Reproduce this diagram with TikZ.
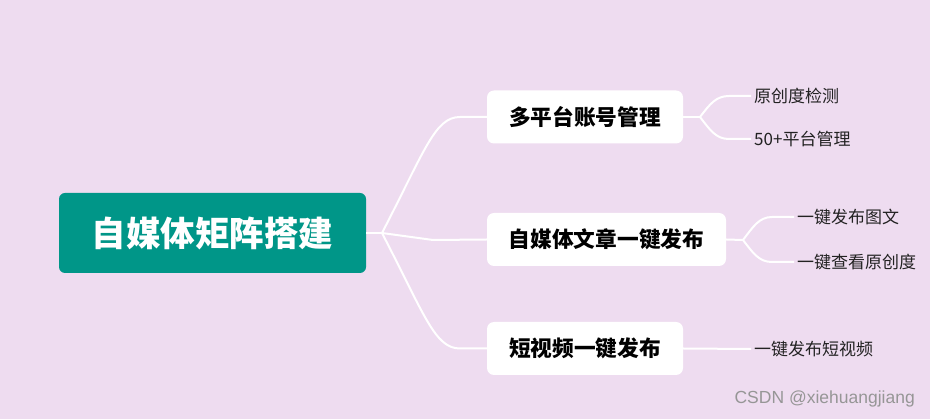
\documentclass[tikz,border=0pt]{standalone}
\usepackage{fontspec}
\setmainfont{Noto Sans CJK SC}
\newfontfamily\wmfont{Liberation Sans}
\definecolor{bgc}{RGB}{238,220,240}
\definecolor{rootc}{RGB}{0,150,136}
\definecolor{leafc}{RGB}{34,34,34}
\definecolor{wmc}{RGB}{150,150,150}
\tikzset{
  rootbox/.style={fill=rootc, rounded corners=6pt, text=white, font=\fontsize{34.5}{38}\selectfont\bfseries, minimum width=307pt, minimum height=80pt, inner sep=0pt},
  topicbox/.style={fill=white, rounded corners=7pt, text=black, font=\fontsize{21.7}{24}\selectfont\bfseries, minimum height=53pt, inner sep=0pt},
  leaftext/.style={anchor=west, text=leafc, font=\fontsize{17}{19}\selectfont, inner xsep=3pt, inner ysep=0pt},
  branch/.style={draw=white, line width=2pt},
}
\begin{document}
\begin{tikzpicture}[x=1pt,y=-1pt]
\fill[bgc] (0,0) rectangle (930,419);
\useasboundingbox (0,0) rectangle (930,419);

\node[rootbox] (root) at (212.5,233) {自媒体矩阵搭建};
\node[topicbox, minimum width=196pt] (b1) at (585,117) {多平台账号管理};
\node[topicbox, minimum width=239pt] (b2) at (606.5,239.5) {自媒体文章一键发布};
\node[topicbox, minimum width=196pt] (b3) at (585,348.5) {短视频一键发布};

\node[leaftext] (l1) at (751,96) {原创度检测};
\node[leaftext] (l2) at (751,139) {50+平台管理};
\node[leaftext] (l3) at (794,217) {一键发布图文};
\node[leaftext] (l4) at (794,262) {一键查看原创度};
\node[leaftext] (l5) at (751,349) {一键发布短视频};

\coordinate (j0) at (382,233);
\coordinate (j1) at (700,117);
\coordinate (j2) at (743,240);
\coordinate (j3) at (700,348.5);

\draw[branch] (root.east) -- (j0);
\draw[branch] (j0) .. controls (425,150) and (435,117) .. (460,117) -- (b1.west);
\draw[branch] (j0) -- (433,240) -- (b2.west);
\draw[branch] (j0) .. controls (425,316) and (435,348.5) .. (460,348.5) -- (b3.west);

\draw[branch] (b1.east) -- (j1);
\draw[branch] (j1) .. controls (710,104) and (716,96) .. (729,96) -- (l1.west);
\draw[branch] (j1) .. controls (710,130) and (716,139) .. (729,139) -- (l2.west);

\draw[branch] (b2.east) -- (j2);
\draw[branch] (j2) .. controls (753,227) and (759,217) .. (772,217) -- (l3.west);
\draw[branch] (j2) .. controls (753,253) and (759,262) .. (772,262) -- (l4.west);

\draw[branch] (b3.east) -- (l5.west);

\node[anchor=east, text=wmc, font=\wmfont\fontsize{17.5}{19}\selectfont, inner sep=0pt] (wm) at (915,399) {CSDN @xiehuangjiang};
\end{tikzpicture}
\end{document}
